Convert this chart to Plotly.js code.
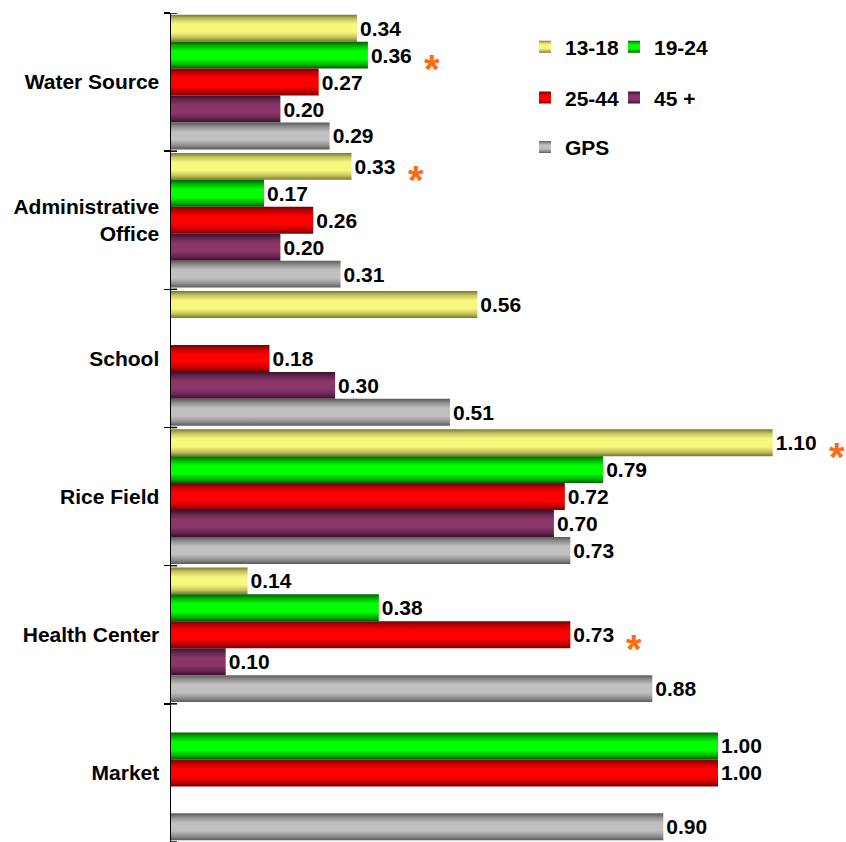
<!DOCTYPE html>
<html><head><meta charset="utf-8">
<script src="https://cdn.plot.ly/plotly-3.0.1.min.js"></script>
<style>html,body{margin:0;padding:0;background:#fff}</style>
</head><body><div id="chart" style="width:846px;height:842px"></div>
<script>
// ---- data ----
var categories = ['Water Source', 'Administrative<br>Office', 'School', 'Rice Field', 'Health Center', 'Market'];
var seriesNames = ['13-18', '19-24', '25-44', '45 +', 'GPS'];
var v13_18 = [0.34, 0.33, 0.56, 1.10, 0.14, null];
var v19_24 = [0.36, 0.17, null, 0.79, 0.38, 1.00];
var v25_44 = [0.27, 0.26, 0.18, 0.72, 0.73, 1.00];
var v45plus = [0.20, 0.20, 0.30, 0.70, 0.10, null];
var vGPS = [0.29, 0.31, 0.51, 0.73, 0.88, 0.90];
// significant differences marked with an asterisk: [category index, series index]
var starred = [[0, 1], [1, 0], [3, 0], [4, 2]];

// ---- styles ----
var seriesValues = [v13_18, v19_24, v25_44, v45plus, vGPS];
var darkCols = ['#76762f', '#005f00', '#760000', '#38102c', '#5a5a5a'];
var midCols = ['#c2c25c', '#00b000', '#c00000', '#64244c', '#8e8e8e'];
var brightCols = ['#f7f77e', '#00ff00', '#ff0000', '#8a3668', '#c0c0c0'];
var legendIds = ['legend', 'legend2', 'legend3', 'legend4', 'legend5'];
// legend placement (paper coords): two columns, three rows
var legX = [0.5244, 0.6563, 0.5244, 0.6563, 0.5244];
var legY = [0.959, 0.959, 0.8975, 0.8975, 0.838];
var FONT = 'Arial, "Liberation Sans", sans-serif';
var FS = 21;
var bargap = 0.025;

var traces = seriesValues.map(function (vals, i) {
  return {
    type: 'bar', orientation: 'h',
    x: vals, y: categories, name: seriesNames[i],
    legend: legendIds[i],
    marker: { color: brightCols[i], line: { width: 0 } },
    text: vals.map(function (v) { return v == null ? '' : v.toFixed(2); }),
    textposition: 'outside', constraintext: 'none', cliponaxis: false,
    textfont: { family: FONT, size: FS, weight: 'bold', color: '#000' },
    hoverinfo: 'skip'
  };
});

var slot = (1 - bargap) / seriesNames.length;
var annotations = starred.map(function (s) {
  var ci = s[0], si = s[1];
  return {
    xref: 'x', yref: 'y', x: seriesValues[si][ci], y: ci + (si - (seriesNames.length - 1) / 2) * slot,
    text: '*', showarrow: false, xanchor: 'center', yanchor: 'middle', xshift: 64, yshift: -14,
    font: { family: FONT, size: 40, weight: 'bold', color: '#ff6a13' }
  };
});

// inner halves of the crossing category-boundary ticks
var shapes = [];
for (var b = 0; b <= categories.length; b++) {
  shapes.push({ type: 'line', xref: 'paper', yref: 'y', x0: 0, x1: 6 / 675, y0: b - 0.5, y1: b - 0.5,
    line: { color: '#000', width: 1.5 }, layer: 'above' });
}

var legFont = { family: FONT, size: FS, weight: 'bold', color: '#000' };

var layout = {
  width: 846, height: 842,
  margin: { l: 171, r: 0, t: 13, b: 0, pad: 0 },
  paper_bgcolor: '#fff', plot_bgcolor: '#fff',
  barmode: 'group', bargap: bargap, bargroupgap: 0,
  showlegend: true,
  xaxis: { range: [0, 1.234], visible: false, fixedrange: true },
  yaxis: {
    type: 'category', range: [categories.length - 0.5, -0.5], showline: true, linecolor: '#000', linewidth: 1.5,
    ticks: 'outside', ticklen: 6, tickwidth: 1.5, tickcolor: '#000', tickson: 'boundaries',
    ticklabelstandoff: 6,
    tickfont: { family: FONT, size: FS, weight: 'bold', color: '#000' },
    showgrid: false, zeroline: false, fixedrange: true
  },
  annotations: annotations,
  shapes: shapes
};
legendIds.forEach(function (id, i) {
  layout[id] = { x: legX[i], xanchor: 'left', y: legY[i], yanchor: 'middle', orientation: 'h',
    font: legFont, bgcolor: 'rgba(0,0,0,0)', borderwidth: 0 };
});

Plotly.newPlot('chart', traces, layout, { staticPlot: true }).then(function (gd) {
  var ns = 'http://www.w3.org/2000/svg';
  var svg = gd.querySelector('svg.main-svg');
  var defs = svg.querySelector('defs') || svg.insertBefore(document.createElementNS(ns, 'defs'), svg.firstChild);
  seriesNames.forEach(function (n, i) {
    var lg = document.createElementNS(ns, 'linearGradient');
    lg.setAttribute('id', 'barGrad' + i);
    lg.setAttribute('x1', '0'); lg.setAttribute('y1', '0');
    lg.setAttribute('x2', '0'); lg.setAttribute('y2', '1');
    [[0, darkCols[i]], [0.15, midCols[i]], [0.35, brightCols[i]], [0.65, brightCols[i]], [0.85, midCols[i]], [1, darkCols[i]]]
      .forEach(function (st) {
        var s = document.createElementNS(ns, 'stop');
        s.setAttribute('offset', st[0]);
        s.setAttribute('stop-color', st[1]);
        lg.appendChild(s);
      });
    defs.appendChild(lg);
  });
  gd.querySelectorAll('.barlayer g.trace').forEach(function (t) {
    var cd = t.__data__; if (!cd || !cd[0]) return;
    var idx = cd[0].trace.index;
    t.querySelectorAll('g.point path').forEach(function (p) { p.style.fill = 'url(#barGrad' + idx + ')'; });
  });
  gd.querySelectorAll('g.traces').forEach(function (t) {
    var d = t.__data__; if (!d || !d[0]) return;
    var idx = d[0].trace.index;
    t.querySelectorAll('.legendpoints path').forEach(function (p) { p.style.fill = 'url(#barGrad' + idx + ')'; });
  });
});
</script>
</body></html>
